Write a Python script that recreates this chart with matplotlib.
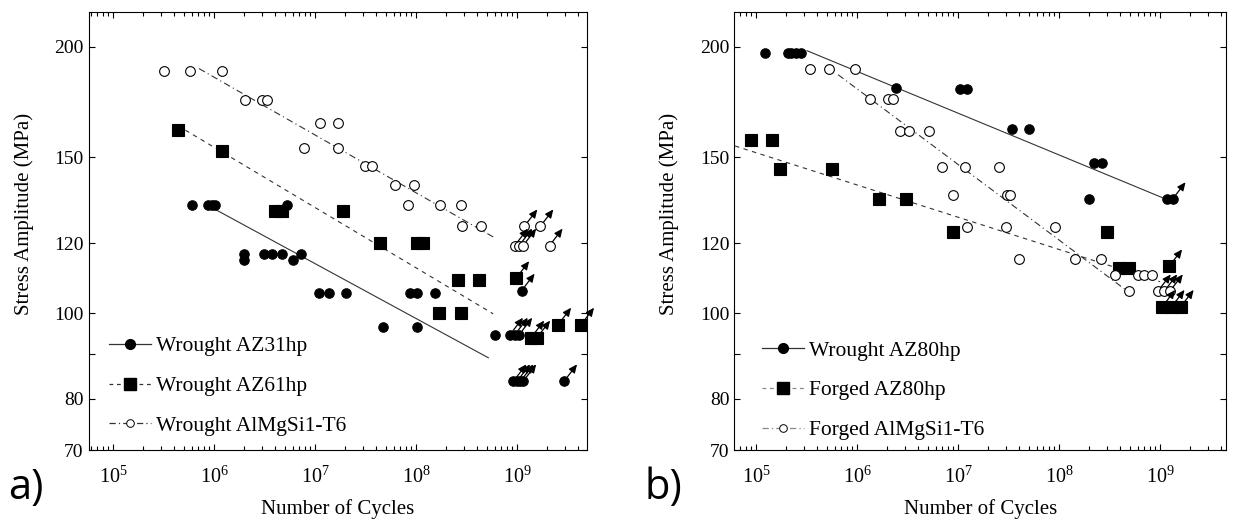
import numpy as np
import matplotlib
matplotlib.use('Agg')
import matplotlib.pyplot as plt
import matplotlib.transforms as mtransforms
from matplotlib.lines import Line2D
from matplotlib.ticker import LogLocator, NullFormatter, NullLocator, LogFormatterSciNotation

plt.rcParams['font.family'] = 'Liberation Serif'
plt.rcParams['mathtext.fontset'] = 'custom'
plt.rcParams['mathtext.rm'] = 'Liberation Serif'
plt.rcParams['mathtext.it'] = 'Liberation Serif:italic'

# ---------------- panel a) ----------------
az31_n = [6.1e5, 8.7e5, 9.5e5, 1.02e6, 5.3e6, 1.97e6, 1.97e6, 3.14e6, 3.77e6, 4.69e6,
          6.05e6, 7.26e6, 1.10e7, 1.38e7, 2.02e7, 4.71e7, 1.02e8, 8.77e7, 1.02e8, 1.54e8, 6.06e8]
az31_s = [132.5, 132.5, 132.5, 132.5, 132.5, 116.5, 114.7, 116.5, 116.5, 116.5,
          114.7, 116.5, 105.4, 105.4, 105.4, 96.4, 96.4, 105.4, 105.4, 105.4, 94.5]
az31_run_n = [8.5e8, 9.5e8, 1.05e9, 1.11e9, 9.2e8, 1.0e9, 1.08e9, 1.15e9, 2.92e9]
az31_run_s = [94.5, 94.5, 94.5, 106.0, 83.7, 83.7, 83.7, 83.7, 83.7]
az31_fit_n = [1.0e6, 5.2e8]
az31_fit_s = [131.2, 89.0]

az61_n = [4.38e5, 1.2e6, 4.0e6, 4.7e6, 1.91e7, 4.4e7, 1.02e8, 1.17e8, 2.62e8, 4.2e8, 1.69e8, 2.79e8]
az61_s = [161, 152.5, 130.5, 130.5, 130.5, 120, 120, 120, 109, 109, 100, 100]
az61_run_n = [9.8e8, 1.38e9, 1.58e9, 2.55e9, 4.3e9]
az61_run_s = [109.5, 93.8, 93.8, 97.0, 97.0]
az61_fit_n = [5.2e5, 5.8e8]
az61_fit_s = [161, 99.8]

almg_a_n = [3.2e5, 5.8e5, 1.19e6, 2.03e6, 2.97e6, 3.35e6, 1.12e7, 1.68e7, 7.8e6, 1.68e7,
            3.1e7, 3.7e7, 6.2e7, 9.5e7, 8.4e7, 1.72e8, 2.79e8, 2.84e8, 4.4e8]
almg_a_s = [188, 188, 188, 174, 174, 174, 164, 164, 153.5, 153.5,
            146.6, 146.6, 139.5, 139.5, 132.5, 132.5, 132.5, 125.3, 125.3]
almg_a_run_n = [1.18e9, 1.7e9, 9.5e8, 1.05e9, 1.15e9, 2.1e9]
almg_a_run_s = [125.3, 125.3, 119.2, 119.2, 119.2, 119.2]
almg_a_fit_n = [7.1e5, 6.2e8]
almg_a_fit_s = [189, 121.4]

# ---------------- panel b) ----------------
az80w_n = [1.22e5, 2.06e5, 2.22e5, 2.5e5, 2.8e5, 2.42e6, 1.05e7, 1.24e7, 3.39e7, 4.99e7,
           2.2e8, 2.69e8, 1.98e8, 1.16e9]
az80w_s = [197, 197, 197, 197, 197, 179.5, 179.3, 179.3, 161.6, 161.6,
           147.7, 147.7, 134.5, 134.5]
az80w_run_n = [1.33e9]
az80w_run_s = [134.5]
az80w_fit_n = [3.2e5, 1.15e9]
az80w_fit_s = [198, 134.5]

az80f_n = [8.98e4, 1.43e5, 1.72e5, 5.69e5, 1.66e6, 3.06e6, 9.02e6, 3.02e8, 3.95e8, 4.96e8]
az80f_s = [157, 157, 145.5, 145.5, 134.5, 134.5, 123.6, 123.6, 112.4, 112.4]
az80f_run_n = [1.23e9, 1.05e9, 1.3e9, 1.6e9]
az80f_run_s = [112.9, 101.6, 101.6, 101.6]
az80f_fit_n = [6.2e4, 1.0e9]
az80f_fit_s = [154.5, 108.5]

almg_b_n = [3.4e5, 5.3e5, 9.5e5, 1.34e6, 2.04e6, 2.25e6, 2.67e6, 3.26e6, 5.16e6, 6.89e6,
            1.18e7, 2.54e7, 9.02e6, 3.04e7, 3.27e7, 1.24e7, 2.99e7, 9.2e7, 4.06e7, 1.44e8,
            2.59e8, 3.6e8, 6.0e8, 7.0e8, 8.3e8, 4.9e8]
almg_b_s = [188.6, 188.6, 188.6, 174.8, 174.8, 174.8, 160.6, 160.6, 160.6, 146.4,
            146.4, 146.4, 136, 136, 136, 125.2, 125.2, 125.2, 115.2, 115.2,
            115.2, 110.3, 110.3, 110.3, 110.3, 105.8]
almg_b_run_n = [9.5e8, 1.1e9, 1.25e9]
almg_b_run_s = [105.8, 105.8, 105.8]
almg_b_fit_n = [6.5e5, 5.6e8]
almg_b_fit_s = [186, 104.4]

yticks = [70, 80, 90, 100, 120, 150, 200]
ylabels = ['70', '80', '', '100', '120', '150', '200']

fig = plt.figure(figsize=(12.33, 5.2), dpi=100)
ax_a = fig.add_axes([0.0718, 0.1346, 0.4043, 0.8423])
ax_b = fig.add_axes([0.5957, 0.1346, 0.3986, 0.8423])

DASH = (4, 4)
DASHDOT = (6, 3, 1, 3)
LINE_C = '#333333'


def setup(ax, xlim):
    ax.set_xscale('log')
    ax.set_yscale('log')
    ax.set_xlim(*xlim)
    ax.set_ylim(70, 219)
    ax.set_yticks(yticks, ylabels)
    ax.yaxis.set_minor_locator(NullLocator())
    ax.xaxis.set_major_locator(LogLocator(base=10, numticks=20))
    ax.xaxis.set_major_formatter(LogFormatterSciNotation())
    ax.xaxis.set_minor_locator(LogLocator(base=10, subs=np.arange(2, 10), numticks=20))
    ax.xaxis.set_minor_formatter(NullFormatter())
    ax.tick_params(which='both', direction='in', top=True, right=True, width=0.8, colors='black')
    ax.tick_params(which='major', length=4.5, labelsize=14)
    ax.tick_params(which='minor', length=2.8)
    ax.tick_params(axis='x', which='major', pad=12, labelsize=14.5)
    for sp in ax.spines.values():
        sp.set_linewidth(0.8)
    ax.set_xlabel('Number of Cycles', fontsize=15)
    ax.set_ylabel('Stress Amplitude (MPa)', fontsize=15)
    ax.xaxis.set_label_coords(0.5, -0.135)
    ax.xaxis.label.set_va('center')


def runouts(ax, n, s):
    head = mtransforms.offset_copy(ax.transData, fig=fig, x=13, y=17, units='dots')
    tail = mtransforms.offset_copy(ax.transData, fig=fig, x=3, y=4, units='dots')
    for xi, yi in zip(n, s):
        ax.annotate('', xy=(xi, yi), xycoords=head, xytext=(xi, yi), textcoords=tail,
                    arrowprops=dict(arrowstyle='-|>,head_length=0.55,head_width=0.25',
                                    color='black', lw=0.9, shrinkA=0, shrinkB=0,
                                    mutation_scale=9), zorder=4)


def series(ax, n, s, rn, rs, fn, fs, marker, ms, filled, ls):
    ax.plot(fn, fs, color=LINE_C, lw=0.8, linestyle=ls, zorder=2)
    fc = 'black' if filled else 'white'
    ax.plot(n + rn, s + rs, linestyle='none', marker=marker, ms=ms, mfc=fc,
            mec='black', mew=0.8, zorder=3)
    runouts(ax, rn, rs)


# panel a
setup(ax_a, (10 ** 4.757, 10 ** 9.693))
series(ax_a, az31_n, az31_s, az31_run_n, az31_run_s, az31_fit_n, az31_fit_s, 'o', 6.8, True, '-')
series(ax_a, az61_n, az61_s, az61_run_n, az61_run_s, az61_fit_n, az61_fit_s, 's', 8.4, True, (0, DASH))
series(ax_a, almg_a_n, almg_a_s, almg_a_run_n, almg_a_run_s, almg_a_fit_n, almg_a_fit_s, 'o', 7.0, False, (0, DASHDOT))
ax_a.yaxis.set_label_coords(-0.109, 0.539)

# panel b
setup(ax_b, (10 ** 4.787, 10 ** 9.653))
series(ax_b, az80w_n, az80w_s, az80w_run_n, az80w_run_s, az80w_fit_n, az80w_fit_s, 'o', 6.8, True, '-')
series(ax_b, az80f_n, az80f_s, az80f_run_n, az80f_run_s, az80f_fit_n, az80f_fit_s, 's', 8.4, True, (0, DASH))
series(ax_b, almg_b_n, almg_b_s, almg_b_run_n, almg_b_run_s, almg_b_fit_n, almg_b_fit_s, 'o', 7.0, False, (0, DASHDOT))
ax_b.yaxis.set_label_coords(-0.113, 0.539)


def legend(ax, labels, anchor, light):
    c2 = '#888888' if light else LINE_C
    handles = [
        Line2D([], [], color=LINE_C, lw=0.9, ls='-', marker='o', ms=7, mfc='black', mec='black'),
        Line2D([], [], color=c2, lw=0.9, ls=(0, (3, 3)), marker='s', ms=8.5, mfc='black', mec='black'),
        Line2D([], [], color=c2, lw=0.9, ls=(0, (5, 2.5, 1, 2.5)), marker='o', ms=5.5, mfc='white', mec='black', mew=0.7),
    ]
    ax.legend(handles, labels, loc='lower left', bbox_to_anchor=anchor, frameon=False,
              fontsize=15.5, handlelength=1.95, handletextpad=0.25, labelspacing=0.92,
              borderaxespad=0, borderpad=0)


legend(ax_a, ['Wrought AZ31hp', 'Wrought AZ61hp', 'Wrought AlMgSi1-T6'], (0.041, 0.032), False)
legend(ax_b, ['Wrought AZ80hp', 'Forged AZ80hp', 'Forged AlMgSi1-T6'], (0.055, 0.022), True)

fig.text(8 / 1233, 1 - 488 / 520, 'a)', fontsize=30, family='Open Sans', va='center', ha='left')
fig.text(645 / 1233, 1 - 488 / 520, 'b)', fontsize=30, family='Open Sans', va='center', ha='left')

fig.savefig('out.png', dpi=100)
